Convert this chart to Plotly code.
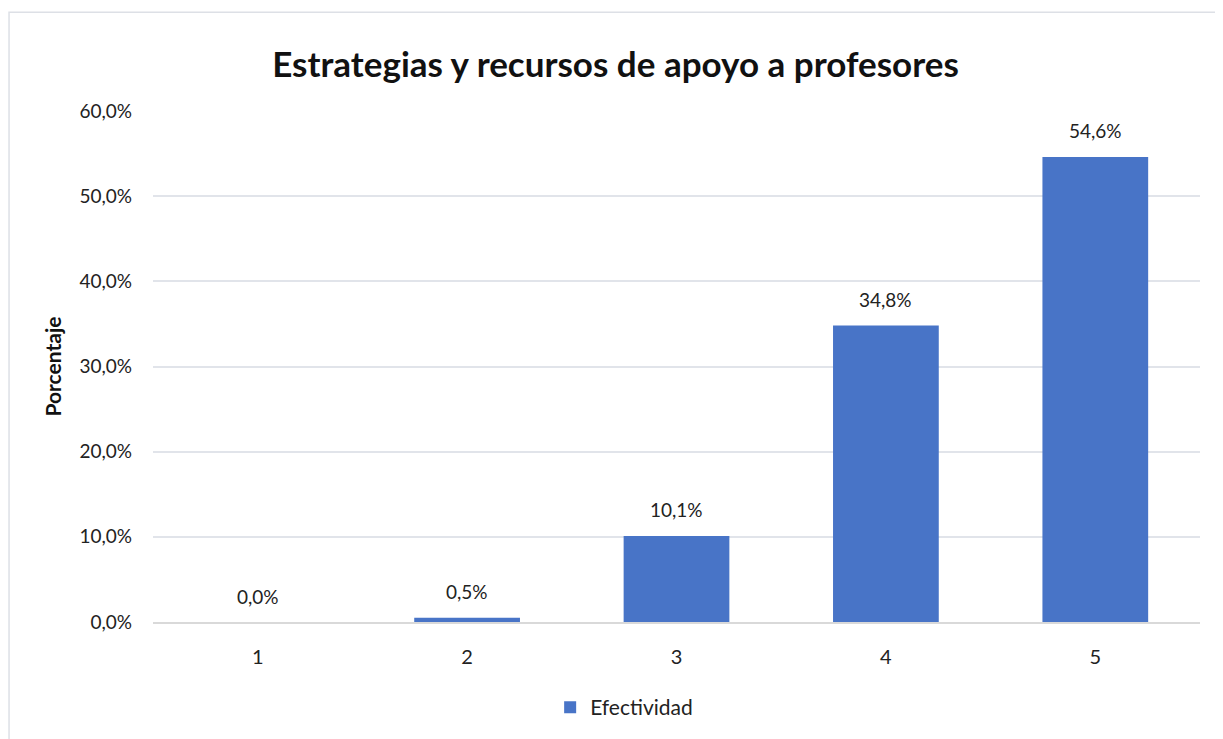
import plotly.graph_objects as go

# Datos
categorias = ["1", "2", "3", "4", "5"]
efectividad = [0.0, 0.005, 0.101, 0.348, 0.546]
serie_nombre = "Efectividad"

titulo = "Estrategias y recursos de apoyo a profesores"
eje_y_titulo = "Porcentaje"

# la pagina tiene 8px de margen en el body
W, H = 1215, 731
font_family = "Lato, 'Open Sans', sans-serif"

fig = go.Figure()

fig.add_trace(
    go.Bar(
        x=categorias,
        y=efectividad,
        name=serie_nombre,
        marker=dict(color="#4874C7", line=dict(width=0)),
        width=0.505,
        showlegend=True,
        hovertemplate="%{x}: %{y:.1%}<extra></extra>",
    )
)

# etiquetas de datos encima de cada barra
for i, val in enumerate(efectividad):
    fig.add_annotation(
        x=i,
        y=val,
        text=f"{val * 100:.1f}%".replace(".", ","),
        showarrow=False,
        yanchor="middle",
        yshift=26,
        font=dict(size=19, color="#222222"),
    )

# marco del grafico (recortado a la derecha y abajo como en la imagen)
fig.add_shape(
    type="rect",
    xref="paper",
    yref="paper",
    x0=-0.1375,
    x1=1.2,
    y0=-0.4,
    y1=1.1934,
    line=dict(color="#DDE0E6", width=1.5),
    layer="below",
)

fig.update_layout(
    width=W,
    height=H,
    separators=",.",
    paper_bgcolor="white",
    plot_bgcolor="white",
    font=dict(family=font_family, size=19, color="#222222"),
    title=dict(
        text="<b>" + titulo + "</b>",
        x=0.5,
        xanchor="center",
        y=0.923,
        yanchor="middle",
        font=dict(size=35, color="#111111"),
    ),
    margin=dict(l=145, r=23, t=103, b=116),
    xaxis=dict(
        type="category",
        showgrid=False,
        showline=True,
        linecolor="#D9D9D9",
        linewidth=1.5,
        ticks="",
        ticklabelstandoff=16,
        tickfont=dict(size=20),
    ),
    yaxis=dict(
        range=[0, 0.6],
        dtick=0.1,
        tickformat=".1%",
        showgrid=True,
        gridcolor="#E1E4EA",
        gridwidth=1.5,
        zeroline=False,
        ticks="",
        ticklabelstandoff=20,
        tickfont=dict(size=19),
        title=dict(
            text="<b>" + eje_y_titulo + "</b>",
            font=dict(size=21, color="#111111"),
            standoff=12,
        ),
    ),
    legend=dict(
        orientation="h",
        x=0.45,
        xanchor="center",
        y=-0.165,
        yanchor="middle",
        font=dict(size=21),
        itemwidth=30,
    ),
)

fig.write_html("out.html")
